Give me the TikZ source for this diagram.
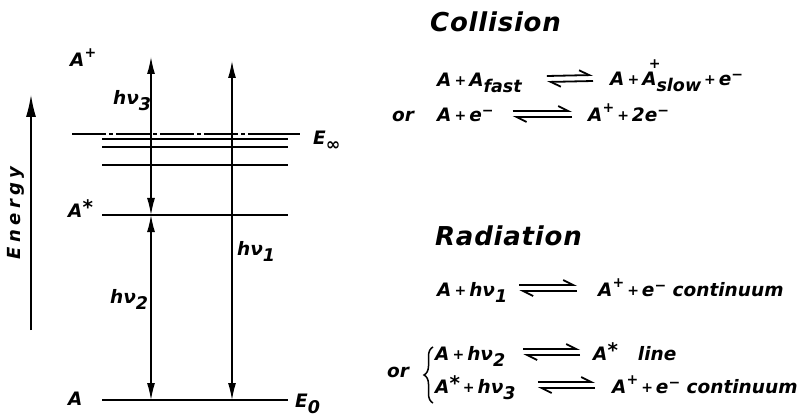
\documentclass[tikz,border=0pt]{standalone}
\usepackage{fontspec}
\setmainfont{DejaVu Sans}[ItalicFont=* Oblique, BoldFont=* Bold, BoldItalicFont=* Bold Oblique]
\usetikzlibrary{arrows.meta,calc,decorations.pathreplacing}
\newcommand\sub[1]{\raisebox{-6pt}{\fontsize{17.5}{18}\selectfont #1}}
\newcommand\sups[1]{\raisebox{9pt}{\fontsize{14}{14}\selectfont #1}}
\newcommand\hisup[1]{\raisebox{17pt}{\fontsize{14}{14}\selectfont #1}}
\newcommand\mns{\raisebox{6pt}{\fontsize{14}{14}\selectfont −}}
\newcommand\str{\raisebox{3pt}{\fontsize{20}{20}\selectfont *}}
\newcommand\subsup[2]{\llap{\hisup{#2}\hspace{-4pt}}\sub{#1}}
\newcommand\pl{\hspace{3pt}\raisebox{1pt}{\fontsize{14}{14}\selectfont +}\hspace{3pt}}
\begin{document}
\begin{tikzpicture}[x=1pt,y=1pt,
  txt/.style={inner sep=0pt, anchor=base west, font=\fontsize{18.5}{22}\selectfont\bfseries\itshape},
  head/.style={inner sep=0pt, anchor=base west, font=\fontsize{26}{30}\selectfont\bfseries\itshape\addfontfeature{LetterSpace=3}},
  level/.style={line width=1.5pt},
  ground/.style={line width=2.4pt},
  dbl/.style={line width=1.3pt, {Latex[length=17pt,width=8pt]}-{Latex[length=17pt,width=8pt]}},
  earrow/.style={line width=1.3pt, -{Latex[length=22pt,width=10pt]}},
  harp/.style={line width=1.8pt, -{Straight Barb[harpoon,length=10pt,width=10pt]}},
  eqbrace/.style={line width=1.5pt, decorate, decoration={brace, amplitude=9pt}}
]
\useasboundingbox (0,0) rectangle (801,-417);

% ---------- energy axis ----------
\coordinate (eb) at (31,-330);
\coordinate (et) at (31,-95);
\draw[earrow] (eb) -- (et);
\node[txt, anchor=center, rotate=90, font=\fontsize{18}{20}\selectfont\bfseries\itshape\addfontfeature{LetterSpace=25}] (energy) at (16,-213) {Energy};

% ---------- levels ----------
\draw[level, dash pattern=on 34pt off 3pt on 4pt off 3pt] (72,-134) -- (256,-134);
\draw[level] (256,-134) -- (300,-134);
\draw[level] (102,-139) -- (288,-139);
\draw[level] (102,-147) -- (288,-147);
\draw[level] (102,-165) -- (288,-165);
\draw[level] (102,-215) -- (288,-215);
\draw[ground] (102,-400) -- (288,-400);

\node[txt] (einf) at (313,-145) {E\sub{∞}};
\node[txt] (ezero) at (295,-407) {E\sub{0}};

% ---------- transition arrows ----------
\coordinate (t3) at (151,-57);
\coordinate (m3) at (151,-215);
\coordinate (b2) at (151,-400);
\coordinate (t1) at (232,-61);
\coordinate (b1) at (232,-400);
\draw[dbl] (m3) -- (t3);
\draw[dbl] (b2) -- (m3);
\draw[dbl] (b1) -- (t1);

\node[txt] (lion) at (70,-67) {A\sups{+}};
\node[txt] (lhv3) at (113,-105) {hν\sub{3}};
\node[txt] (lex) at (68,-218) {A\str};
\node[txt] (lhv2) at (110,-303) {hν\sub{2}};
\node[txt] (lhv1) at (237,-255) {hν\sub{1}};
\node[txt] (lgr) at (68,-405) {A};

% ---------- collision ----------
\node[head] (coll) at (430,-32) {Collision};
\node[txt] (c1l) at (437,-87) {A\pl A\sub{fast}};
\node[txt] (c1r) at (610,-86) {A\pl A\subsup{slow}{+}\pl e\mns};
\draw[harp] ($(c1l.base east)+(25,11)$) -- ($(c1r.base west)+(-17,11)$);
\draw[harp] ($(c1r.base west)+(-17,5)$) -- ($(c1l.base east)+(25,5)$);

\node[txt] (c2or) at (392,-122) {or};
\node[txt] (c2l) at (437,-122) {A\pl e\mns};
\node[txt] (c2r) at (588,-122) {A\sups{+}\pl 2e\mns};
\draw[harp] ($(c2l.base east)+(19,11)$) -- ($(c2r.base west)+(-16,11)$);
\draw[harp] ($(c2r.base west)+(-16,5)$) -- ($(c2l.base east)+(19,5)$);

% ---------- radiation ----------
\node[head] (rad) at (435,-245) {Radiation};
\node[txt] (r1l) at (437,-296) {A\pl hν\sub{1}};
\node[txt] (r1r) at (598,-296) {A\sups{+}\pl e\mns\ continuum};
\draw[harp] ($(r1l.base east)+(12,11)$) -- ($(r1r.base west)+(-21,11)$);
\draw[harp] ($(r1r.base west)+(-21,5)$) -- ($(r1l.base east)+(12,5)$);

\node[txt] (r2or) at (387,-377) {or};
\coordinate (brb) at (433,-403);
\coordinate (brt) at (433,-347);
\draw[eqbrace] (brb) -- (brt);

\node[txt] (r2l) at (435,-360) {A\pl hν\sub{2}};
\node[txt] (r2r) at (593,-360) {A\str\hspace{20pt}line};
\draw[harp] ($(r2l.base east)+(18,11)$) -- ($(r2r.base west)+(-13,11)$);
\draw[harp] ($(r2r.base west)+(-13,5)$) -- ($(r2l.base east)+(18,5)$);

\node[txt] (r3l) at (435,-393) {A\str\pl hν\sub{3}};
\node[txt] (r3r) at (612,-393) {A\sups{+}\pl e\mns\ continuum};
\draw[harp] ($(r3l.base east)+(22,11)$) -- ($(r3r.base west)+(-17,11)$);
\draw[harp] ($(r3r.base west)+(-17,5)$) -- ($(r3l.base east)+(22,5)$);
\end{tikzpicture}
\end{document}
